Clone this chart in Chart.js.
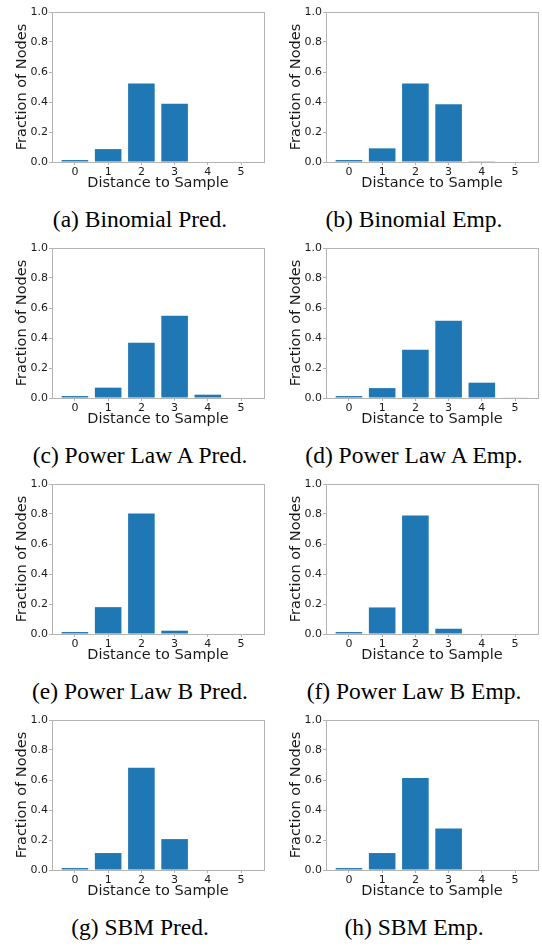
<!DOCTYPE html>
<html>
<head>
<meta charset="utf-8">
<script src="https://cdn.jsdelivr.net/npm/chart.js@4/dist/chart.umd.min.js"></script>
<style>
  html, body { margin: 0; padding: 0; background: #fff; overflow: hidden; }
  #wrap { position: relative; width: 542px; height: 946px; }
  .panel { position: absolute; width: 271px; height: 236px; }
  .panel canvas { position: absolute; left: 0; top: 0; }
  .caption {
    position: absolute; left: 0; width: 280px; top: 205px;
    text-align: center; font-family: "Liberation Serif", "Times New Roman", serif;
    font-size: 23.5px; line-height: 28px; color: #000; white-space: nowrap;
  }
</style>
</head>
<body>
<div id="wrap"></div>
<script>
// Distance bins on the x axis
const distances = [0, 1, 2, 3, 4, 5];
const yTicks = [0, 0.2, 0.4, 0.6, 0.8, 1.0];

// Fraction of nodes at each distance
const binomialPred  = [0.013, 0.086, 0.524, 0.389, 0.000, 0.000];
const binomialEmp   = [0.013, 0.091, 0.524, 0.385, 0.005, 0.000];
const powerLawAPred = [0.013, 0.069, 0.369, 0.549, 0.022, 0.000];
const powerLawAEmp  = [0.013, 0.066, 0.321, 0.515, 0.102, 0.004];
const powerLawBPred = [0.013, 0.179, 0.803, 0.022, 0.000, 0.000];
const powerLawBEmp  = [0.013, 0.177, 0.790, 0.035, 0.000, 0.000];
const sbmPred       = [0.013, 0.113, 0.681, 0.206, 0.000, 0.000];
const sbmEmp        = [0.013, 0.113, 0.613, 0.277, 0.000, 0.000];

const captions = [
  "(a) Binomial Pred.", "(b) Binomial Emp.",
  "(c) Power Law A Pred.", "(d) Power Law A Emp.",
  "(e) Power Law B Pred.", "(f) Power Law B Emp.",
  "(g) SBM Pred.", "(h) SBM Emp."
];
const series = [binomialPred, binomialEmp, powerLawAPred, powerLawAEmp,
                powerLawBPred, powerLawBEmp, sbmPred, sbmEmp];

const SPINE = '#b3b3b3';
const TEXT = '#1a1a1a';
const SANS = '"DejaVu Sans", sans-serif';

// Four-sided frame around the plotting area
const frame = {
  id: 'frame',
  afterDatasetsDraw(chart) {
    const a = chart.chartArea, ctx = chart.ctx;
    ctx.save();
    ctx.strokeStyle = SPINE;
    ctx.lineWidth = 1;
    ctx.strokeRect(Math.round(a.left) + 0.5, Math.round(a.top) + 0.5,
                   Math.round(a.right - a.left), Math.round(a.bottom - a.top));
    ctx.restore();
  }
};

const wrap = document.getElementById('wrap');

series.forEach((vals, i) => {
  const col = i % 2, row = Math.floor(i / 2);
  const panel = document.createElement('div');
  panel.className = 'panel';
  panel.style.left = (col === 0 ? 0 : 274) + 'px';
  panel.style.top = (row * 236) + 'px';
  const canvas = document.createElement('canvas');
  canvas.width = 271; canvas.height = 200;
  canvas.style.width = '271px'; canvas.style.height = '200px';
  panel.appendChild(canvas);
  const cap = document.createElement('div');
  cap.className = 'caption';
  cap.textContent = captions[i];
  panel.appendChild(cap);
  wrap.appendChild(panel);

  new Chart(canvas, {
    type: 'bar',
    data: {
      datasets: [{
        data: distances.map((d, k) => ({ x: d, y: vals[k] })),
        backgroundColor: '#1f77b4',
        borderWidth: 0,
        categoryPercentage: 1.0,
        barPercentage: 0.8
      }]
    },
    options: {
      responsive: false,
      animation: false,
      devicePixelRatio: 1,
      layout: { padding: { left: 0, right: 7, top: 12, bottom: 0 } },
      plugins: { legend: { display: false }, tooltip: { enabled: false } },
      scales: {
        x: {
          type: 'linear',
          offset: false,
          min: -0.69, max: 5.69,
          afterBuildTicks(scale) { scale.ticks = distances.map(v => ({ value: v })); },
          afterFit(scale) { scale.height = 38; },
          grid: { display: true, drawOnChartArea: false, drawTicks: true, tickLength: 3,
                  color: SPINE, offset: false },
          border: { display: false },
          ticks: { font: { family: SANS, size: 11 }, color: TEXT, padding: 1,
                   maxRotation: 0, autoSkip: false, callback: v => String(v) },
          title: { display: true, text: 'Distance to Sample', color: TEXT,
                   font: { family: SANS, size: 14.5 }, padding: { top: 0, bottom: 8 } }
        },
        y: {
          min: 0, max: 1,
          afterBuildTicks(scale) { scale.ticks = yTicks.map(v => ({ value: v })); },
          afterFit(scale) { scale.width = 52; },
          grid: { display: true, drawOnChartArea: false, drawTicks: true, tickLength: 3,
                  color: SPINE },
          border: { display: false },
          ticks: { font: { family: SANS, size: 11 }, color: TEXT, padding: 1,
                   callback: v => Number(v).toFixed(1) },
          title: { display: true, text: 'Fraction of Nodes', color: TEXT,
                   font: { family: SANS, size: 14.5 }, padding: { top: 14, bottom: 0 } }
        }
      }
    },
    plugins: [frame]
  });
});
</script>
</body>
</html>
